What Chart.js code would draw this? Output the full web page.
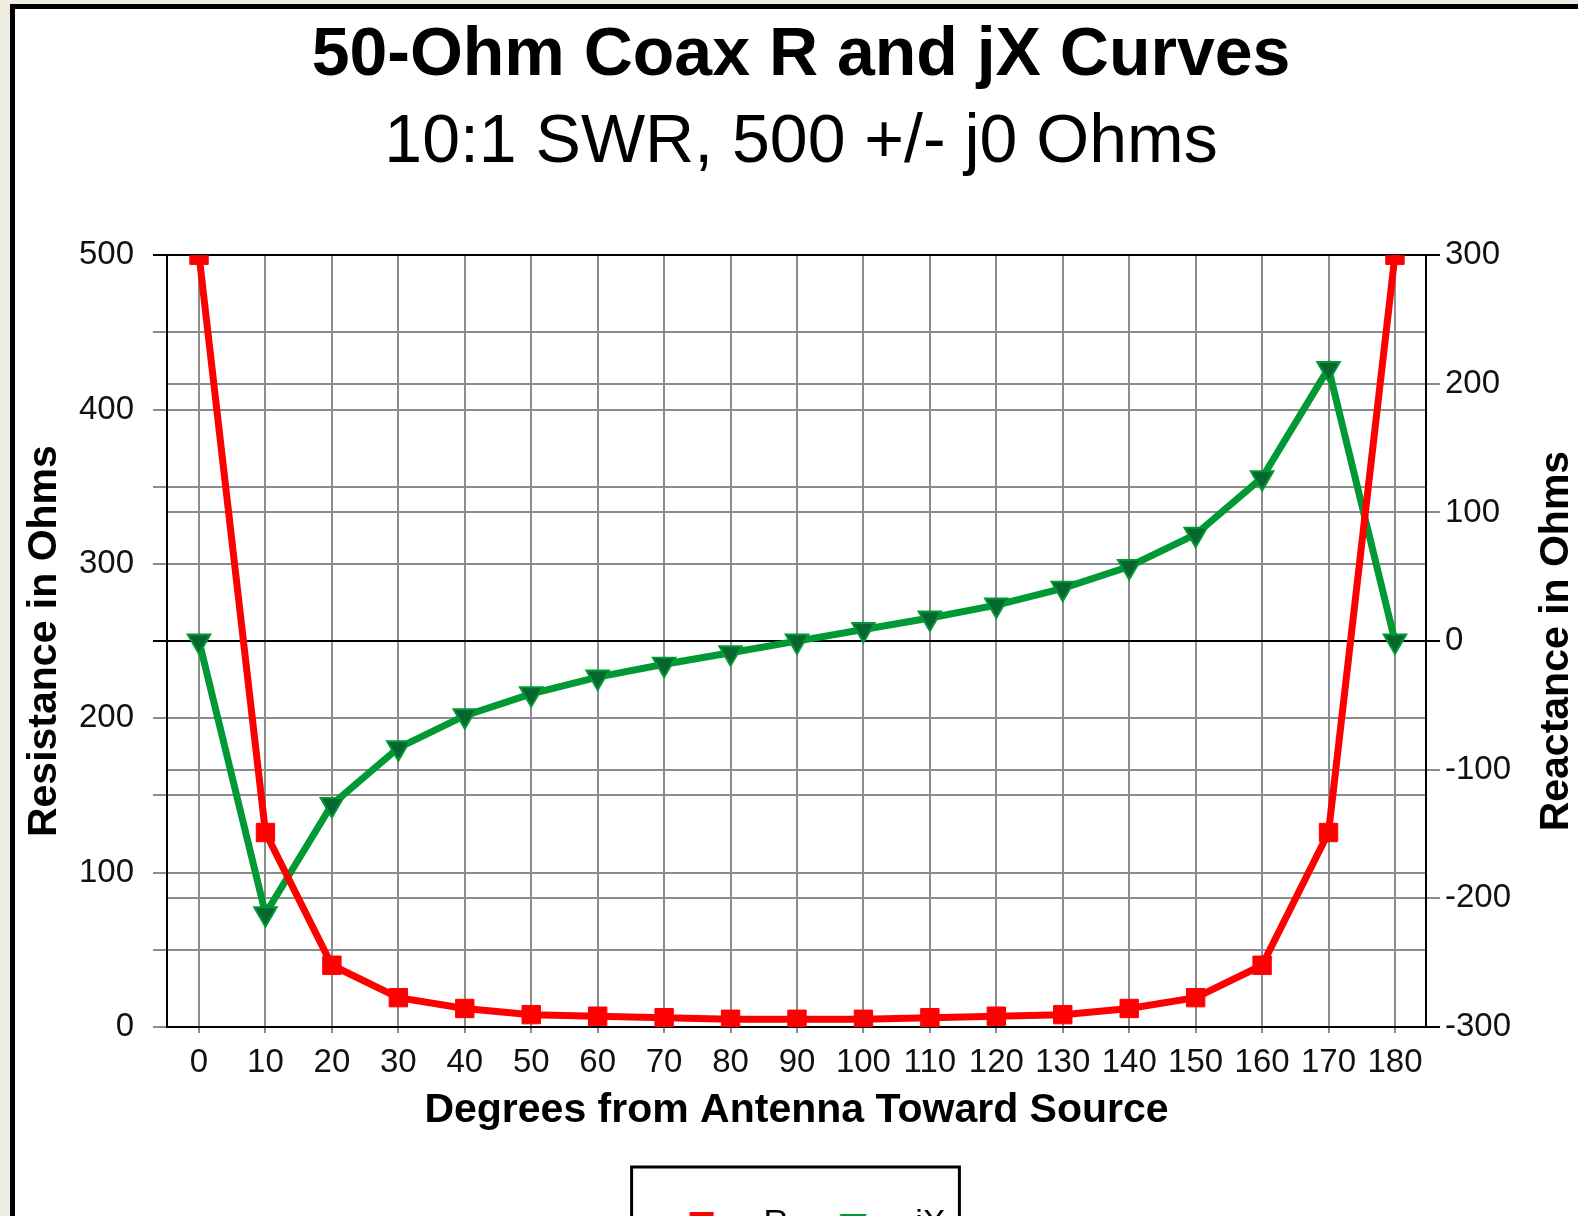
<!DOCTYPE html>
<html>
<head>
<meta charset="utf-8">
<title>50-Ohm Coax R and jX Curves</title>
<script src="https://cdn.jsdelivr.net/npm/chart.js@4.4.1/dist/chart.umd.min.js"></script>
<style>
  html, body { margin: 0; padding: 0; overflow: hidden; background: #eeebe1; width: 1578px; height: 1216px; }
  #paper { position: absolute; left: 10px; top: 4px; width: 1700px; height: 1400px; background: #fff;
           border-left: 5px solid #000; border-top: 5px solid #000; }
  #chart { position: absolute; left: 0; top: 0; }
</style>
</head>
<body>
<div id="paper"></div>
<canvas id="chart" width="1602" height="1251"></canvas>
<script>
// degrees along the line, from antenna toward source
const degrees = [0, 10, 20, 30, 40, 50, 60, 70, 80, 90, 100, 110, 120, 130, 140, 150, 160, 170, 180];
// resistance (left axis), ohms
const resistance = [500, 126, 40, 19, 12, 8, 7, 6, 5, 5, 5, 6, 7, 8, 12, 19, 40, 126, 500];
// reactance (right axis), ohms
const reactance = [0, -212, -127, -83, -58, -41, -28, -18, -9, 0, 9, 18, 28, 41, 58, 83, 127, 212, 0];

const seriesNames = ["R", "jX"];
const rAxisTicks = [0, 100, 200, 300, 400, 500];
const xAxisTicks = [-300, -200, -100, 0, 100, 200, 300];

const FONT = "'Liberation Sans', Arial, sans-serif";
const GRID = "#8c8c8c";
const RED = "#ff0000";
const GREEN = "#009933";
const DARK_GREEN = "#07662f";

// legend icons: short line with the marker on it, like the old spreadsheet legend
function legendIcon(color, drawMarker) {
  const c = document.createElement("canvas");
  c.width = 90;
  c.height = 34;
  const g = c.getContext("2d");
  g.strokeStyle = color;
  g.lineWidth = 7;
  g.beginPath();
  g.moveTo(15, 17);
  g.lineTo(75, 17);
  g.stroke();
  drawMarker(g);
  return c;
}
const icons = [
  legendIcon(RED, g => { g.fillStyle = RED; g.fillRect(33, 5, 24, 24); }),
  legendIcon(GREEN, g => {
    g.fillStyle = DARK_GREEN;
    g.strokeStyle = GREEN;
    g.lineWidth = 2;
    g.beginPath();
    g.moveTo(33, 8); g.lineTo(57, 8); g.lineTo(45, 26); g.closePath();
    g.fill(); g.stroke();
  })
];

// right axis title reads bottom-to-top like the left one
const rightTitle = {
  id: "rightTitle",
  afterDraw(chart) {
    const s = chart.scales.y1;
    const ctx = chart.ctx;
    ctx.save();
    ctx.font = "bold 41px " + FONT;
    ctx.fillStyle = "#000";
    ctx.textAlign = "center";
    ctx.textBaseline = "middle";
    ctx.translate(s.right - 24.6 - 21, (s.top + s.bottom) / 2);
    ctx.rotate(-Math.PI / 2);
    ctx.fillText("Reactance in Ohms", 0, 0);
    ctx.restore();
  }
};

// box round the legend
const legendFrame = {
  id: "legendFrame",
  afterDraw(chart) {
    const lg = chart.legend;
    const hb = lg.legendHitBoxes;
    if (!hb || !hb.length) return;
    const last = hb[hb.length - 1];
    const left = hb[0].left - 25;
    const right = last.left + last.width + 14;
    const ctx = chart.ctx;
    ctx.save();
    ctx.strokeStyle = "#000";
    ctx.lineWidth = 3;
    ctx.strokeRect(left, lg.top - 20, right - left, lg.bottom - lg.top + 40);
    ctx.restore();
  }
};

new Chart(document.getElementById("chart"), {
  type: "line",
  data: {
    labels: degrees,
    datasets: [
      {
        label: seriesNames[0],
        data: resistance,
        yAxisID: "y",
        borderColor: RED,
        backgroundColor: RED,
        borderWidth: 7,
        pointStyle: "rect",
        pointRadius: 13,
        pointBorderWidth: 1,
        pointBackgroundColor: RED,
        pointBorderColor: RED,
        clip: 0,
        tension: 0
      },
      {
        label: seriesNames[1],
        data: reactance,
        yAxisID: "y1",
        borderColor: GREEN,
        backgroundColor: GREEN,
        borderWidth: 7,
        pointStyle: "triangle",
        pointRotation: 180,
        pointRadius: 13,
        pointBorderWidth: 2,
        pointBackgroundColor: DARK_GREEN,
        pointBorderColor: GREEN,
        clip: 0,
        tension: 0
      }
    ]
  },
  options: {
    responsive: false,
    animation: false,
    devicePixelRatio: 1,
    layout: { padding: 0 },
    plugins: {
      title: {
        display: true,
        text: "50-Ohm Coax R and jX Curves",
        color: "#000",
        font: { family: FONT, size: 68, weight: "bold" },
        padding: { top: 15, bottom: 5 }
      },
      subtitle: {
        display: true,
        text: "10:1 SWR, 500 +/- j0 Ohms",
        color: "#000",
        font: { family: FONT, size: 68, weight: "normal" },
        padding: { top: 1, bottom: 71 }
      },
      legend: {
        position: "bottom",
        labels: {
          color: "#000",
          font: { family: FONT, size: 34 },
          usePointStyle: true,
          pointStyleWidth: 90,
          padding: 20,
          generateLabels(chart) {
            const items = Chart.defaults.plugins.legend.labels.generateLabels(chart);
            items.forEach((it, i) => { it.pointStyle = icons[i]; it.rotation = 0; });
            return items;
          }
        }
      },
      tooltip: { enabled: false }
    },
    scales: {
      x: {
        type: "linear",
        min: -4.82,
        max: 184.67,
        afterBuildTicks: s => { s.ticks = degrees.map(v => ({ value: v })); },
        afterFit: s => { s.height = 160; },
        ticks: {
          autoSkip: false,
          maxRotation: 0,
          padding: 10,
          color: "#111",
          font: { family: FONT, size: 33 }
        },
        grid: { color: GRID, lineWidth: 2, tickLength: 6 },
        border: { color: "#000", width: 2 },
        title: {
          display: true,
          text: "Degrees from Antenna Toward Source",
          color: "#000",
          font: { family: FONT, size: 41, weight: "bold" },
          padding: { top: 0, bottom: 52 }
        }
      },
      y: {
        position: "left",
        min: rAxisTicks[0],
        max: rAxisTicks[rAxisTicks.length - 1],
        afterFit: s => { s.width = 167; },
        ticks: {
          stepSize: 50,
          padding: 19,
          color: "#111",
          font: { family: FONT, size: 33 },
          callback: v => (rAxisTicks.includes(v) ? String(v) : "")
        },
        grid: {
          lineWidth: 2,
          tickLength: 14,
          color: c => (c.tick && (c.tick.value === 500 || c.tick.value === 250) ? "#000" : GRID)
        },
        border: { color: "#000", width: 2 },
        title: {
          display: true,
          text: "Resistance in Ohms",
          color: "#000",
          font: { family: FONT, size: 41, weight: "bold" },
          padding: { top: 20, bottom: 0 }
        }
      },
      y1: {
        position: "right",
        min: xAxisTicks[0],
        max: xAxisTicks[xAxisTicks.length - 1],
        afterFit: s => { s.width = 176; },
        ticks: {
          stepSize: 100,
          padding: 5,
          color: "#111",
          font: { family: FONT, size: 33 },
          callback: v => String(v)
        },
        grid: {
          drawOnChartArea: true,
          lineWidth: 2,
          tickLength: 14,
          color: c => (c.tick && (c.tick.value === 0 || Math.abs(c.tick.value) === 300) ? "#000" : GRID)
        },
        border: { color: "#000", width: 2 },
        title: { display: false }
      }
    }
  },
  plugins: [rightTitle, legendFrame]
});
</script>
</body>
</html>
